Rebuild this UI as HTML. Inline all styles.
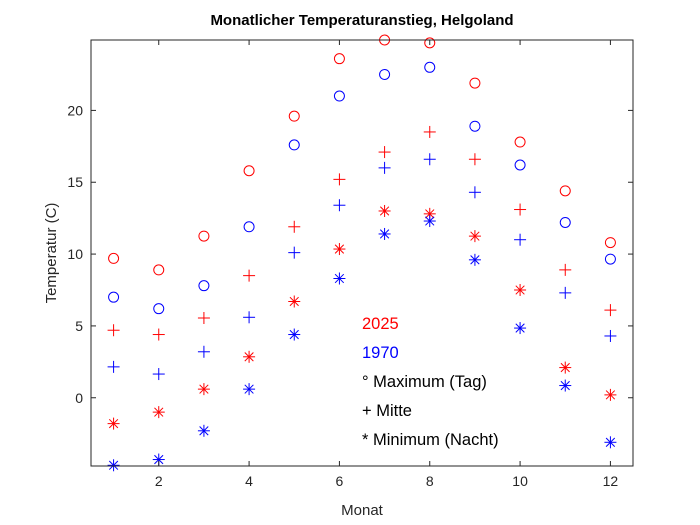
<!DOCTYPE html>
<html><head><meta charset="utf-8"><style>
body{margin:0;background:#fff;}
svg{font-family:"Liberation Sans",Arial,sans-serif;display:block}
</style></head><body>
<svg id="chart" width="700" height="525">
<rect width="700" height="525" fill="#fff"/>
<g id="marks"></g>
<rect x="91" y="40" width="542" height="426" fill="none" stroke="#262626" stroke-width="1"/>
<g id="axes"></g>
<text x="362" y="25" text-anchor="middle" font-weight="bold" font-size="15" fill="#000">Monatlicher Temperaturanstieg, Helgoland</text>
<text x="362" y="515" text-anchor="middle" font-size="15" fill="#262626">Monat</text>
<text transform="translate(56,253) rotate(-90)" text-anchor="middle" font-size="15" fill="#262626">Temperatur (C)</text>
<g font-size="16.5">
<text x="362" y="329" fill="#ff0000">2025</text>
<text x="362" y="358" fill="#0000ff">1970</text>
<text x="362" y="387" fill="#000">° Maximum (Tag)</text>
<text x="362" y="416" fill="#000">+ Mitte</text>
<text x="362" y="445" fill="#000">* Minimum (Nacht)</text>
</g>
</svg>
<script>
const months=[1,2,3,4,5,6,7,8,9,10,11,12];
const max2025=[9.7,8.9,11.25,15.8,19.6,23.6,24.9,24.7,21.9,17.8,14.4,10.8];
const max1970=[7.0,6.2,7.8,11.9,17.6,21.0,22.5,23.0,18.9,16.2,12.2,9.65];
const mid2025=[4.7,4.4,5.55,8.5,11.9,15.2,17.1,18.5,16.6,13.1,8.9,6.1];
const mid1970=[2.15,1.65,3.2,5.6,10.1,13.4,16.0,16.6,14.3,11.0,7.3,4.3];
const min2025=[-1.8,-1.0,0.6,2.85,6.7,10.35,13.0,12.8,11.25,7.5,2.1,0.2];
const min1970=[-4.7,-4.3,-2.3,0.6,4.4,8.3,11.4,12.3,9.6,4.85,0.85,-3.1];
const xTicks=[2,4,6,8,10,12];
const yTicks=[0,5,10,15,20];
const X0=91,X1=633,Y0=40,Y1=466,xmin=0.5,xmax=12.5,ymin=-4.75,ymax=24.9;
function sx(v){return X0+(v-xmin)/(xmax-xmin)*(X1-X0);}
function sy(v){return Y1-(v-ymin)/(ymax-ymin)*(Y1-Y0);}
const NS='http://www.w3.org/2000/svg';
const marks=document.getElementById('marks');
const axes=document.getElementById('axes');
function mk(tag,attrs,parent){const e=document.createElementNS(NS,tag);for(const k in attrs)e.setAttribute(k,attrs[k]);parent.appendChild(e);return e;}
function drawSeries(vals,color,shape,name){
  vals.forEach((v,i)=>{
    const cx=sx(months[i]),cy=sy(v);
    const g=mk('g',{stroke:color,fill:'none','stroke-width':1},marks);
    
    
    if(shape==='o'){mk('circle',{cx:cx,cy:cy,r:5},g);}
    else{
      const s=6;
      mk('line',{x1:cx-s,y1:cy,x2:cx+s,y2:cy},g);
      mk('line',{x1:cx,y1:cy-s,x2:cx,y2:cy+s},g);
      if(shape==='*'){const d=4.3;
        mk('line',{x1:cx-d,y1:cy-d,x2:cx+d,y2:cy+d},g);
        mk('line',{x1:cx-d,y1:cy+d,x2:cx+d,y2:cy-d},g);}
    }
  });
}
drawSeries(max2025,'#ff0000','o','max-2025');
drawSeries(max1970,'#0000ff','o','max-1970');
drawSeries(mid2025,'#ff0000','+','mid-2025');
drawSeries(mid1970,'#0000ff','+','mid-1970');
drawSeries(min2025,'#ff0000','*','min-2025');
drawSeries(min1970,'#0000ff','*','min-1970');
xTicks.forEach(t=>{
  const x=sx(t);
  const l1=mk('line',{x1:x,y1:Y1,x2:x,y2:Y1-5,stroke:'#262626'},axes);
  
  
  mk('line',{x1:x,y1:Y0,x2:x,y2:Y0+5,stroke:'#262626'},axes);
  const tx=mk('text',{x:x,y:Y1+20,'text-anchor':'middle','font-size':14,fill:'#262626'},axes);
  tx.textContent=t;
  
  
});
yTicks.forEach(t=>{
  const y=sy(t);
  const l1=mk('line',{x1:X0,y1:y,x2:X0+5,y2:y,stroke:'#262626'},axes);
  
  
  mk('line',{x1:X1,y1:y,x2:X1-5,y2:y,stroke:'#262626'},axes);
  const tx=mk('text',{x:X0-8,y:y+5,'text-anchor':'end','font-size':14,fill:'#262626'},axes);
  tx.textContent=t;
  
  
});
</script>
</body></html>
